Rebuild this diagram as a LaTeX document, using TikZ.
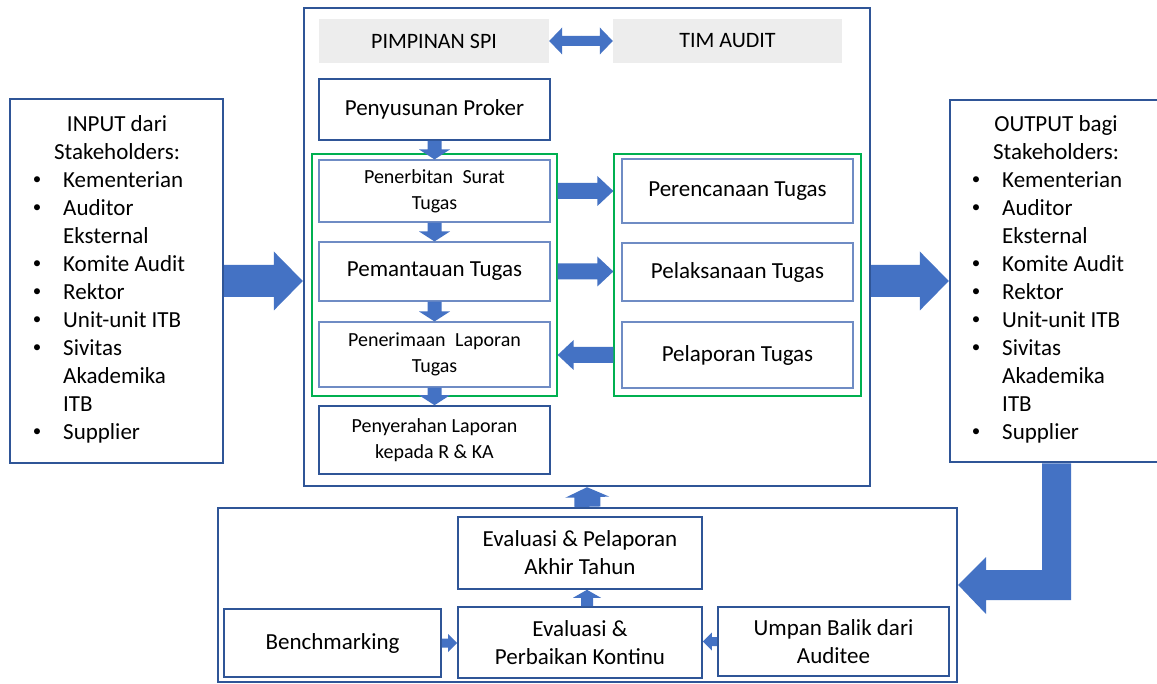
\documentclass[tikz,border=0pt]{standalone}
\usepackage{fontspec}
\setmainfont{Carlito}
\usetikzlibrary{calc}
\definecolor{dkblue}{HTML}{2F5597}
\definecolor{ltblue}{HTML}{6F8CC4}
\definecolor{arrblue}{HTML}{4472C4}
\definecolor{grn}{HTML}{00B050}
\definecolor{grayfill}{HTML}{EDEDED}

% block arrow: #1 start, #2 tip, #3 half shaft, #4 half head, #5 head length
\newcommand\barrow[5]{%
  \coordinate (ba) at (#1);
  \coordinate (bb) at (#2);
  \coordinate (bh) at ($(bb)!#5!(ba)$);
  \fill[arrowfill] ($(ba)!#3!90:(bb)$) -- ($(bh)!#3!90:(bb)$) -- ($(bh)!#4!90:(bb)$)
    -- (bb) -- ($(bh)!#4!-90:(bb)$) -- ($(bh)!#3!-90:(bb)$) -- ($(ba)!#3!-90:(bb)$) -- cycle;
}
% stakeholder list: #1 bullet x, #2 text x, #3 name prefix
\newcommand\stakelist[3]{%
  \foreach \txt/\hasb [count=\k] in {Kementerian/1,Auditor/1,Eksternal/0,Komite Audit/1,Rektor/1,Unit-unit ITB/1,Sivitas/1,Akademika/0,ITB/0,Supplier/1}{
    \node[lbl, anchor=base west] (#3t\k) at (#2,{160+28*\k}) {\txt};
    \ifnum\hasb=1 \node[bul, anchor=center] (#3b\k) at (#1,{160+28*\k-7.5}) {\textbullet};\fi
  }%
}

\tikzset{
  lbl/.style={font=\fontsize{23}{28}\selectfont, inner sep=0pt},
  bul/.style={font=\fontsize{17}{20}\selectfont, inner sep=0pt},
  outer/.style={draw=dkblue, line width=2.4pt, inner sep=0pt},
  midbox/.style={draw=dkblue, line width=1.6pt, align=center, inner sep=0pt, font=\fontsize{23}{28}\selectfont},
  litebox/.style={draw=ltblue, line width=1.1pt, align=center, inner sep=0pt, font=\fontsize{23}{28}\selectfont},
  smalltext/.style={font=\fontsize{20}{26}\selectfont},
  greenbox/.style={draw=grn, line width=1.3pt, inner sep=0pt},
  graybox/.style={fill=grayfill, inner sep=0pt, font=\fontsize{22}{26}\selectfont},
  arrowfill/.style={fill=arrblue},
}

\begin{document}
\begin{tikzpicture}[x=1pt,y=-1pt]
\fill[white] (0,0) rectangle (1157,684);
\useasboundingbox (0,0) rectangle (1157,684);

% outer frames
\node[outer, minimum width=213pt, minimum height=364pt] (inbox) at (116.5,281) {};
\node[outer, minimum width=210pt, minimum height=362pt] (outbox) at (1055,281) {};
\node[outer, minimum width=566pt, minimum height=478pt] (main) at (587,247) {};
\node[outer, minimum width=739pt, minimum height=174pt] (bottom) at (587.5,595) {};

% header
\node[graybox, minimum width=230pt, minimum height=44pt] (spi) at (434,41) {PIMPINAN SPI};
\node[graybox, minimum width=229pt, minimum height=44pt] (tim) at (727.5,41) {TIM AUDIT};

% left column
\node[midbox, minimum width=231pt, minimum height=61pt] (proker) at (434.5,109.5) {Penyusunan Proker};
\node[greenbox, minimum width=245pt, minimum height=242pt] (gl) at (434.5,275) {};
\node[greenbox, minimum width=247pt, minimum height=242pt] (gr) at (737.5,275) {};
\node[litebox, smalltext, minimum width=231pt, minimum height=62pt] (surat) at (434.5,191) {Penerbitan\hspace{5pt} Surat\\Tugas};
\node[litebox, minimum width=231pt, minimum height=59pt] (pantau) at (434.5,271.5) {Pemantauan Tugas};
\node[litebox, smalltext, minimum width=231pt, minimum height=65pt] (terima) at (434.5,354.5) {Penerimaan\hspace{5pt} Laporan\\Tugas};
\node[midbox, smalltext, minimum width=231pt, minimum height=68pt] (serah) at (434.5,440) {Penyerahan Laporan\\kepada R \& KA};

% right column
\node[litebox, minimum width=231pt, minimum height=64pt] (rencana) at (737.5,191) {Perencanaan Tugas};
\node[litebox, minimum width=231pt, minimum height=58pt] (laksana) at (737.5,272) {Pelaksanaan Tugas};
\node[litebox, minimum width=231pt, minimum height=66pt] (lapor) at (737.5,355) {Pelaporan Tugas};

% bottom
\node[midbox, minimum width=244pt, minimum height=72pt] (evlap) at (580,553) {Evaluasi \& Pelaporan\\Akhir Tahun};
\node[midbox, minimum width=244pt, minimum height=71pt] (evperb) at (580,642.5) {Evaluasi \&\\Perbaikan Kontinu};
\node[midbox, minimum width=217pt, minimum height=68pt] (bench) at (332.5,643) {Benchmarking};
\node[midbox, minimum width=231pt, minimum height=69pt] (umpan) at (833.5,641.5) {Umpan Balik dari\\Auditee};

% stakeholder texts
\node[lbl, anchor=base] (inh1) at (117,132) {INPUT dari};
\node[lbl, anchor=base] (inh2) at (117,160) {Stakeholders:};
\stakelist{37}{63}{in}
\node[lbl, anchor=base] (outh1) at (1056,132) {OUTPUT bagi};
\node[lbl, anchor=base] (outh2) at (1056,160) {Stakeholders:};
\stakelist{976}{1002}{out}

% arrows
\coordinate (hmid) at ($(spi.east)!0.5!(tim.west)$);
\barrow{hmid}{spi.east}{5pt}{13.5pt}{13pt}
\barrow{hmid}{tim.west}{5pt}{13.5pt}{13pt}

\barrow{proker.south}{surat.north}{7pt}{15.5pt}{10pt}
\barrow{surat.south}{pantau.north}{7pt}{15.5pt}{10pt}
\barrow{pantau.south}{terima.north}{7pt}{15.5pt}{10pt}
\barrow{terima.south}{serah.north}{7pt}{15.5pt}{10pt}

\barrow{gl.east |- rencana.west}{gr.west |- rencana.west}{8pt}{15pt}{16pt}
\barrow{gl.east |- pantau.east}{gr.west |- pantau.east}{8pt}{15pt}{16pt}
\barrow{gr.west |- lapor.west}{gl.east |- lapor.west}{8pt}{15pt}{16pt}

\barrow{inbox.east}{main.west |- inbox.east}{16pt}{29.5pt}{29pt}
\barrow{main.east |- outbox.west}{outbox.west}{16pt}{29.5pt}{29pt}

\barrow{bottom.north}{main.south}{13pt}{22pt}{10pt}
\barrow{evperb.north -| main.south}{evlap.south -| main.south}{6pt}{14pt}{8pt}
\barrow{bench.east}{evperb.west |- bench.east}{4.5pt}{9pt}{9pt}
\barrow{umpan.west}{evperb.east |- umpan.west}{4.5pt}{9pt}{9pt}

% bent arrow from output box to bottom box
\coordinate (btip) at (bottom.east |- 0,585);
\fill[arrowfill] (1042,463.5) -- (1071,463.5) -- (1071,600) -- (986,600) -- (986,614)
  -- (btip) -- (986,557) -- (986,570) -- (1042,570) -- cycle;
\end{tikzpicture}
\end{document}
